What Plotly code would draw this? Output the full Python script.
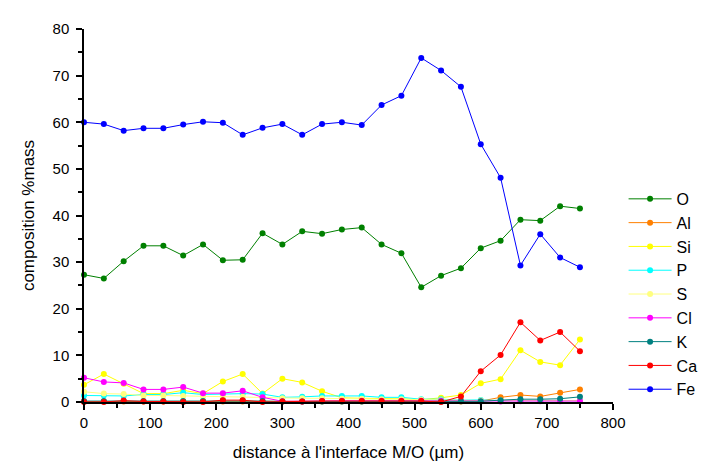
import plotly.graph_objects as go

distance = [0, 30, 60, 90, 120, 150, 180, 210, 240, 270, 300, 330, 360, 390,
            420, 450, 480, 510, 540, 570, 600, 630, 660, 690, 720, 750]

O = [27.3, 26.5, 30.2, 33.5, 33.5, 31.4, 33.8, 30.4, 30.5, 36.2, 33.8, 36.6, 36.1,
     37.0, 37.4, 33.8, 31.9, 24.6, 27.1, 28.7, 33.0, 34.6, 39.1, 38.9, 42.0, 41.5]
Al = [0.1, 0.1, 0.1, 0.1, 0.1, 0.1, 0.1, 0.1, 0.1, 0.1, 0.1, 0.1, 0.1,
      0.1, 0.1, 0.1, 0.1, 0.1, 0.1, 0.1, 0.2, 1.0, 1.5, 1.2, 2.0, 2.7]
Si = [3.7, 6.0, 3.9, 1.8, 1.8, 2.5, 1.8, 4.4, 6.0, 1.8, 5.0, 4.2, 2.3,
      0.9, 0.8, 0.8, 0.7, 0.5, 0.9, 1.5, 4.0, 4.9, 11.1, 8.6, 7.9, 13.4]
P = [1.4, 1.4, 1.3, 1.6, 1.6, 2.0, 1.6, 1.7, 1.8, 1.7, 1.0, 1.1, 1.3,
     1.3, 1.3, 1.0, 1.0, 0.6, 0.6, 0.4, 0.45, 0.3, 0.3, 0.3, 0.3, 0.3]
S = [2.2, 1.8, 1.7, 1.4, 1.4, 1.3, 1.2, 1.1, 1.1, 0.9, 0.8, 0.8, 0.8,
     0.7, 0.7, 0.6, 0.6, 0.5, 0.4, 0.3, 0.3, 0.3, 0.3, 0.3, 0.3, 0.3]
Cl = [5.2, 4.3, 4.1, 2.7, 2.7, 3.2, 1.9, 1.9, 2.4, 1.0, 0.15, 0.1, 0.2,
      0.25, 0.25, 0.25, 0.25, 0.25, 0.25, 0.2, 0.1, 0.1, 0.15, 0.15, 0.15, 0.2]
K = [0.2, 0.2, 0.2, 0.2, 0.2, 0.2, 0.2, 0.3, 0.3, 0.2, 0.1, 0.1, 0.1,
     0.1, 0.1, 0.1, 0.1, 0.1, 0.1, 0.15, 0.15, 0.4, 0.6, 0.6, 0.7, 1.1]
Ca = [0.0, 0.0, 0.3, 0.1, 0.1, 0.0, 0.0, 0.4, 0.4, 0.0, 0.1, 0.1, 0.2,
      0.2, 0.2, 0.2, 0.2, 0.2, 0.0, 1.2, 6.6, 10.1, 17.1, 13.2, 15.0, 10.9]
Fe = [60.0, 59.6, 58.2, 58.7, 58.7, 59.5, 60.1, 59.9, 57.3, 58.8, 59.6, 57.3, 59.6,
      60.0, 59.4, 63.7, 65.7, 73.8, 71.1, 67.6, 55.3, 48.1, 29.3, 36.0, 31.0, 28.9]

names = ["O", "Al", "Si", "P", "S", "Cl", "K", "Ca", "Fe"]
series = [O, Al, Si, P, S, Cl, K, Ca, Fe]
colors = ["#008000", "#FF8000", "#FFFF00", "#00FFFF", "#FFFF80",
          "#FF00FF", "#008080", "#FF0000", "#0000FF"]

fig = go.Figure()
for name, vals, col in zip(names, series, colors):
    fig.add_trace(go.Scatter(
        x=distance, y=vals, name=name, mode="lines+markers",
        line=dict(color=col, width=1),
        marker=dict(color=col, size=6),
        cliponaxis=False,
    ))

axis_common = dict(
    showline=True, linecolor="black", linewidth=1.5,
    ticks="outside", ticklen=6, tickwidth=1.5, tickcolor="black",
    showgrid=False, zeroline=False,
    tickfont=dict(family="Liberation Sans, Arial", size=15, color="black"),
)

fig.update_layout(
    width=712, height=463,
    margin=dict(l=76, r=107, t=14, b=61),
    plot_bgcolor="white", paper_bgcolor="white",
    font=dict(family="Liberation Sans, Arial", size=15, color="black"),
    xaxis=dict(
        range=[0, 800], dtick=100, tick0=0,
        minor=dict(dtick=50, ticks="outside", ticklen=4, tickcolor="black"),
        title=dict(text="distance à l'interface M/O (µm)", standoff=16,
                   font=dict(size=17)),
        **axis_common,
    ),
    yaxis=dict(
        range=[0, 80], dtick=10, tick0=0,
        minor=dict(dtick=5, ticks="outside", ticklen=4, tickcolor="black"),
        ticklabelstandoff=4,
        title=dict(text="composition %mass", standoff=14, font=dict(size=17)),
        **axis_common,
    ),
    legend=dict(
        x=1.02, y=0.59, xanchor="left", yanchor="top",
        font=dict(family="Liberation Sans, Arial", size=16, color="black"),
        bgcolor="rgba(0,0,0,0)", itemwidth=43,
    ),
    showlegend=True,
)

fig.write_html("out.html")
